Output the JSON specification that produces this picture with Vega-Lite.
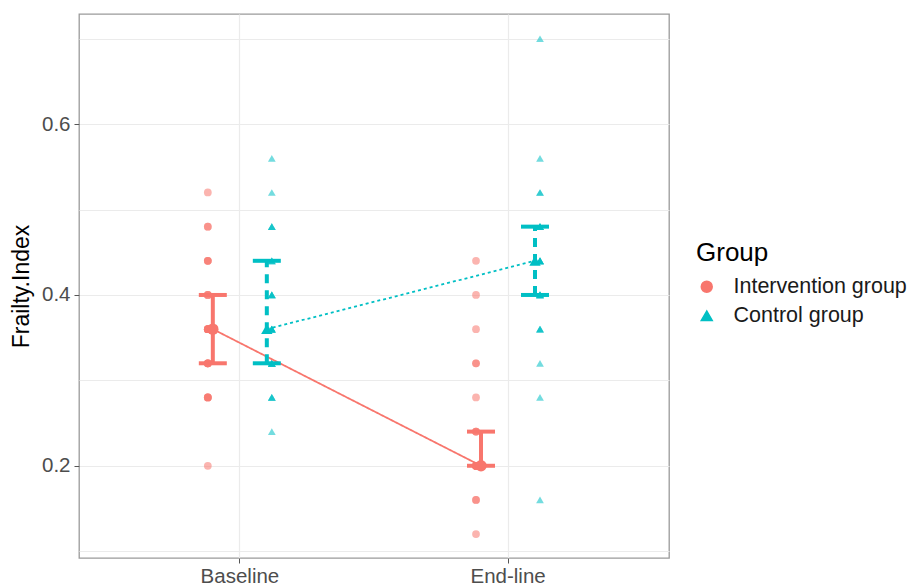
{
  "$schema": "https://vega.github.io/schema/vega-lite/v6.json",
  "width": 590,
  "height": 544,
  "autosize": {"type": "none"},
  "padding": {"left": 79, "top": 14, "right": 250, "bottom": 28},
  "background": "white",
  "config": {
    "font": "Liberation Sans",
    "view": {"stroke": "#9a9a9a", "strokeWidth": 1.3},
    "axis": {"labelColor": "#4D4D4D", "titleColor": "#000000", "labelFont": "Liberation Sans", "titleFont": "Liberation Sans", "titleFontWeight": "normal", "domain": false, "gridColor": "#EBEBEB", "gridWidth": 1.2, "tickColor": "#555555", "tickSize": 5},
    "legend": {"titleFontWeight": "normal", "labelFont": "Liberation Sans", "titleFont": "Liberation Sans", "labelLimit": 0, "symbolOpacity": 1}
  },
  "datasets": {
    "raw": [
      {"time": "Baseline", "group": "Intervention group", "fi": 0.52},
      {"time": "Baseline", "group": "Intervention group", "fi": 0.48},
      {"time": "Baseline", "group": "Intervention group", "fi": 0.48},
      {"time": "Baseline", "group": "Intervention group", "fi": 0.44},
      {"time": "Baseline", "group": "Intervention group", "fi": 0.44},
      {"time": "Baseline", "group": "Intervention group", "fi": 0.44},
      {"time": "Baseline", "group": "Intervention group", "fi": 0.40},
      {"time": "Baseline", "group": "Intervention group", "fi": 0.40},
      {"time": "Baseline", "group": "Intervention group", "fi": 0.40},
      {"time": "Baseline", "group": "Intervention group", "fi": 0.36},
      {"time": "Baseline", "group": "Intervention group", "fi": 0.36},
      {"time": "Baseline", "group": "Intervention group", "fi": 0.36},
      {"time": "Baseline", "group": "Intervention group", "fi": 0.36},
      {"time": "Baseline", "group": "Intervention group", "fi": 0.36},
      {"time": "Baseline", "group": "Intervention group", "fi": 0.36},
      {"time": "Baseline", "group": "Intervention group", "fi": 0.32},
      {"time": "Baseline", "group": "Intervention group", "fi": 0.32},
      {"time": "Baseline", "group": "Intervention group", "fi": 0.32},
      {"time": "Baseline", "group": "Intervention group", "fi": 0.32},
      {"time": "Baseline", "group": "Intervention group", "fi": 0.32},
      {"time": "Baseline", "group": "Intervention group", "fi": 0.28},
      {"time": "Baseline", "group": "Intervention group", "fi": 0.28},
      {"time": "Baseline", "group": "Intervention group", "fi": 0.28},
      {"time": "Baseline", "group": "Intervention group", "fi": 0.28},
      {"time": "Baseline", "group": "Intervention group", "fi": 0.20},
      {"time": "Baseline", "group": "Control group", "fi": 0.56},
      {"time": "Baseline", "group": "Control group", "fi": 0.52},
      {"time": "Baseline", "group": "Control group", "fi": 0.48},
      {"time": "Baseline", "group": "Control group", "fi": 0.48},
      {"time": "Baseline", "group": "Control group", "fi": 0.48},
      {"time": "Baseline", "group": "Control group", "fi": 0.44},
      {"time": "Baseline", "group": "Control group", "fi": 0.44},
      {"time": "Baseline", "group": "Control group", "fi": 0.44},
      {"time": "Baseline", "group": "Control group", "fi": 0.40},
      {"time": "Baseline", "group": "Control group", "fi": 0.40},
      {"time": "Baseline", "group": "Control group", "fi": 0.40},
      {"time": "Baseline", "group": "Control group", "fi": 0.40},
      {"time": "Baseline", "group": "Control group", "fi": 0.36},
      {"time": "Baseline", "group": "Control group", "fi": 0.36},
      {"time": "Baseline", "group": "Control group", "fi": 0.36},
      {"time": "Baseline", "group": "Control group", "fi": 0.36},
      {"time": "Baseline", "group": "Control group", "fi": 0.36},
      {"time": "Baseline", "group": "Control group", "fi": 0.36},
      {"time": "Baseline", "group": "Control group", "fi": 0.32},
      {"time": "Baseline", "group": "Control group", "fi": 0.32},
      {"time": "Baseline", "group": "Control group", "fi": 0.32},
      {"time": "Baseline", "group": "Control group", "fi": 0.32},
      {"time": "Baseline", "group": "Control group", "fi": 0.32},
      {"time": "Baseline", "group": "Control group", "fi": 0.28},
      {"time": "Baseline", "group": "Control group", "fi": 0.28},
      {"time": "Baseline", "group": "Control group", "fi": 0.28},
      {"time": "Baseline", "group": "Control group", "fi": 0.24},
      {"time": "End-line", "group": "Intervention group", "fi": 0.44},
      {"time": "End-line", "group": "Intervention group", "fi": 0.40},
      {"time": "End-line", "group": "Intervention group", "fi": 0.36},
      {"time": "End-line", "group": "Intervention group", "fi": 0.32},
      {"time": "End-line", "group": "Intervention group", "fi": 0.32},
      {"time": "End-line", "group": "Intervention group", "fi": 0.28},
      {"time": "End-line", "group": "Intervention group", "fi": 0.24},
      {"time": "End-line", "group": "Intervention group", "fi": 0.24},
      {"time": "End-line", "group": "Intervention group", "fi": 0.24},
      {"time": "End-line", "group": "Intervention group", "fi": 0.20},
      {"time": "End-line", "group": "Intervention group", "fi": 0.20},
      {"time": "End-line", "group": "Intervention group", "fi": 0.20},
      {"time": "End-line", "group": "Intervention group", "fi": 0.20},
      {"time": "End-line", "group": "Intervention group", "fi": 0.20},
      {"time": "End-line", "group": "Intervention group", "fi": 0.20},
      {"time": "End-line", "group": "Intervention group", "fi": 0.20},
      {"time": "End-line", "group": "Intervention group", "fi": 0.20},
      {"time": "End-line", "group": "Intervention group", "fi": 0.16},
      {"time": "End-line", "group": "Intervention group", "fi": 0.16},
      {"time": "End-line", "group": "Intervention group", "fi": 0.12},
      {"time": "End-line", "group": "Control group", "fi": 0.70},
      {"time": "End-line", "group": "Control group", "fi": 0.56},
      {"time": "End-line", "group": "Control group", "fi": 0.52},
      {"time": "End-line", "group": "Control group", "fi": 0.52},
      {"time": "End-line", "group": "Control group", "fi": 0.48},
      {"time": "End-line", "group": "Control group", "fi": 0.48},
      {"time": "End-line", "group": "Control group", "fi": 0.48},
      {"time": "End-line", "group": "Control group", "fi": 0.48},
      {"time": "End-line", "group": "Control group", "fi": 0.48},
      {"time": "End-line", "group": "Control group", "fi": 0.44},
      {"time": "End-line", "group": "Control group", "fi": 0.44},
      {"time": "End-line", "group": "Control group", "fi": 0.44},
      {"time": "End-line", "group": "Control group", "fi": 0.44},
      {"time": "End-line", "group": "Control group", "fi": 0.44},
      {"time": "End-line", "group": "Control group", "fi": 0.44},
      {"time": "End-line", "group": "Control group", "fi": 0.40},
      {"time": "End-line", "group": "Control group", "fi": 0.40},
      {"time": "End-line", "group": "Control group", "fi": 0.40},
      {"time": "End-line", "group": "Control group", "fi": 0.40},
      {"time": "End-line", "group": "Control group", "fi": 0.40},
      {"time": "End-line", "group": "Control group", "fi": 0.36},
      {"time": "End-line", "group": "Control group", "fi": 0.36},
      {"time": "End-line", "group": "Control group", "fi": 0.36},
      {"time": "End-line", "group": "Control group", "fi": 0.32},
      {"time": "End-line", "group": "Control group", "fi": 0.28},
      {"time": "End-line", "group": "Control group", "fi": 0.16}
    ],
    "summary": [
      {"time": "Baseline", "group": "Intervention group", "center": 0.36, "lo": 0.32, "hi": 0.40},
      {"time": "End-line", "group": "Intervention group", "center": 0.20, "lo": 0.20, "hi": 0.24},
      {"time": "Baseline", "group": "Control group", "center": 0.36, "lo": 0.32, "hi": 0.44},
      {"time": "End-line", "group": "Control group", "center": 0.44, "lo": 0.40, "hi": 0.48}
    ]
  },
  "encoding": {
    "x": {
      "field": "time", "type": "nominal",
      "scale": {"domain": ["Baseline", "End-line"], "paddingInner": 0, "paddingOuter": 0.1},
      "axis": {"title": null, "labelAngle": 0, "labelFontSize": 20.5, "labelPadding": 3, "bandPosition": 0.5, "grid": true}
    },
    "color": {
      "field": "group", "type": "nominal", "title": "Group",
      "scale": {"domain": ["Intervention group", "Control group"], "range": ["#F8766D", "#00BFC4"]},
      "legend": {"orient": "none", "legendX": 617, "legendY": 226, "titleFontSize": 26, "labelFontSize": 21.5, "symbolSize": 120, "rowPadding": 6, "titlePadding": 10, "labelOffset": 16, "titleColor": "#000000", "labelColor": "#1a1a1a", "symbolOpacity": 1, "labelLimit": 0}
    }
  },
  "layer": [
    {
      "data": {"name": "raw"},
      "mark": {"type": "point", "filled": true, "opacity": 0.55, "size": 60},
      "encoding": {
        "xOffset": {"field": "group", "type": "nominal", "scale": {"type": "point", "domain": ["Intervention group", "Control group"], "padding": 0, "range": [102, 166]}},
        "y": {
          "field": "fi", "type": "quantitative",
          "scale": {"domain": [0.092, 0.729], "nice": false, "zero": false},
          "axis": {
            "title": "Frailty.Index", "titleFontSize": 23, "titlePadding": 8,
            "values": [0.1, 0.2, 0.3, 0.4, 0.5, 0.6, 0.7],
            "labelExpr": "round(datum.value*10) % 2 == 0 ? format(datum.value, '.1f') : ''",
            "labelFontSize": 20.5, "labelPadding": 4,
            "tickColor": {"condition": {"test": "round(datum.value*10) % 2 == 0", "value": "#555555"}, "value": "transparent"}
          }
        },
        "shape": {"field": "group", "type": "nominal", "title": "Group", "scale": {"domain": ["Intervention group", "Control group"], "range": ["circle", "triangle-up"]}, "legend": {"orient": "none", "legendX": 617, "legendY": 226, "titleFontSize": 26, "labelFontSize": 21.5, "symbolSize": 120, "rowPadding": 6, "titlePadding": 10, "labelOffset": 16, "titleColor": "#000000", "labelColor": "#1a1a1a", "symbolOpacity": 1, "labelLimit": 0}}
      }
    },
    {
      "data": {"name": "summary"},
      "mark": {"type": "line", "strokeWidth": 1.8},
      "encoding": {
        "xOffset": {"field": "group", "type": "nominal", "scale": {"type": "point", "domain": ["Intervention group", "Control group"], "padding": 0, "range": [107, 161]}},
        "y": {"field": "center", "type": "quantitative"},
        "detail": {"field": "group"},
        "strokeDash": {"field": "group", "type": "nominal", "scale": {"domain": ["Intervention group", "Control group"], "range": [[1, 0], [3, 3]]}, "legend": null}
      }
    },
    {
      "data": {"name": "summary"},
      "mark": {"type": "rule", "strokeWidth": 4},
      "encoding": {
        "xOffset": {"field": "group", "type": "nominal", "scale": {"type": "point", "domain": ["Intervention group", "Control group"], "padding": 0, "range": [107, 161]}},
        "y": {"field": "lo", "type": "quantitative"},
        "y2": {"field": "hi"},
        "strokeDash": {"field": "group", "type": "nominal", "scale": {"domain": ["Intervention group", "Control group"], "range": [[1, 0], [9, 7]]}, "legend": null}
      }
    },
    {
      "data": {"name": "summary"},
      "mark": {"type": "tick", "orient": "horizontal", "size": 28, "thickness": 4, "opacity": 1},
      "encoding": {
        "xOffset": {"field": "group", "type": "nominal", "scale": {"type": "point", "domain": ["Intervention group", "Control group"], "padding": 0, "range": [107, 161]}},
        "y": {"field": "lo", "type": "quantitative"}
      }
    },
    {
      "data": {"name": "summary"},
      "mark": {"type": "tick", "orient": "horizontal", "size": 28, "thickness": 4, "opacity": 1},
      "encoding": {
        "xOffset": {"field": "group", "type": "nominal", "scale": {"type": "point", "domain": ["Intervention group", "Control group"], "padding": 0, "range": [107, 161]}},
        "y": {"field": "hi", "type": "quantitative"}
      }
    },
    {
      "data": {"name": "summary"},
      "mark": {"type": "point", "filled": true, "opacity": 1, "size": 130},
      "encoding": {
        "xOffset": {"field": "group", "type": "nominal", "scale": {"type": "point", "domain": ["Intervention group", "Control group"], "padding": 0, "range": [107, 161]}},
        "y": {"field": "center", "type": "quantitative"},
        "shape": {"field": "group", "type": "nominal", "title": "Group", "scale": {"domain": ["Intervention group", "Control group"], "range": ["circle", "triangle-up"]}}
      }
    }
  ],
  "resolve": {"scale": {"strokeDash": "independent", "xOffset": "independent"}}
}
